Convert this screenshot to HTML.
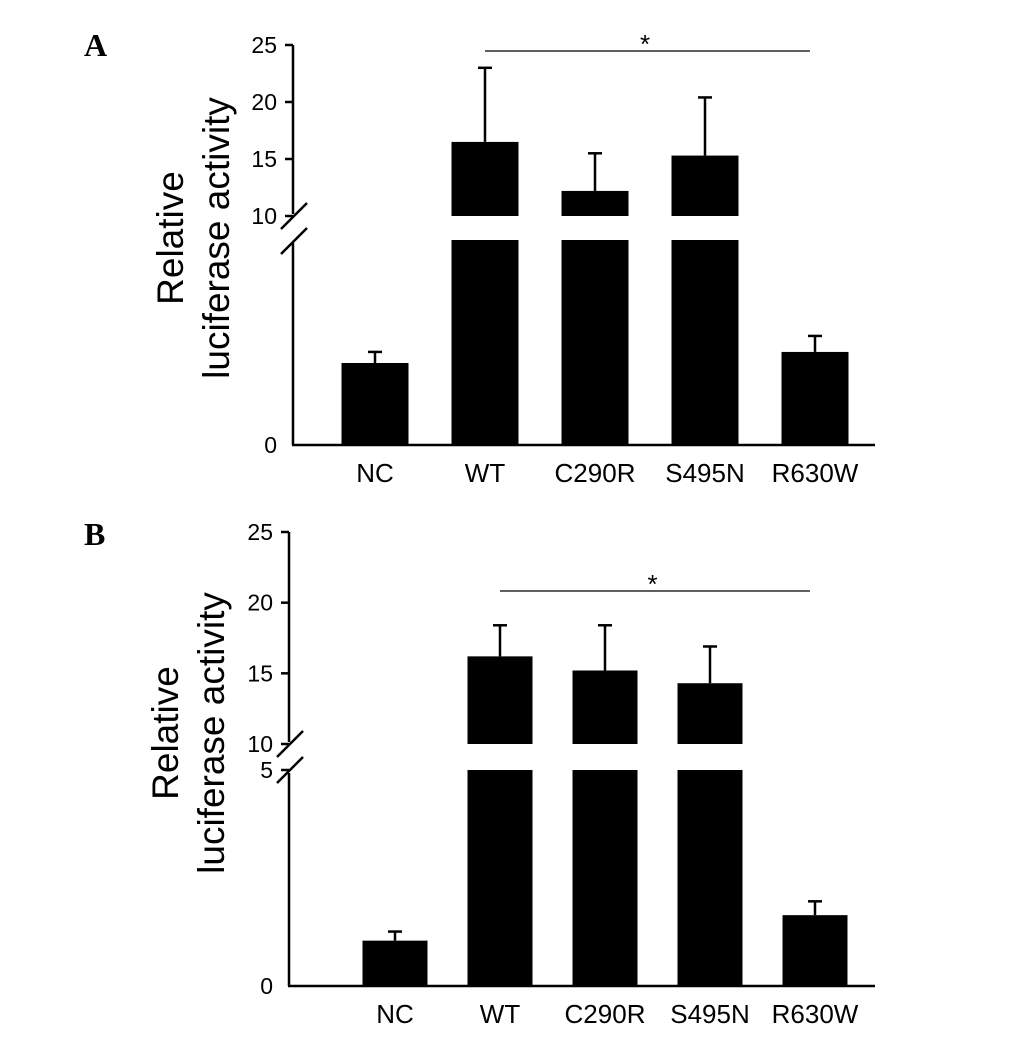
<!DOCTYPE html>
<html><head><meta charset="utf-8"><style>
body{margin:0;background:#fff;}
svg text{font-family:"Liberation Sans",Arial,sans-serif;}
svg text.serif{font-family:"Liberation Serif",serif;}
</style></head><body>
<svg id="chart" width="1033" height="1044" viewBox="0 0 1033 1044" xmlns="http://www.w3.org/2000/svg"></svg>
<script>
const categories=["NC","WT","C290R","S495N","R630W"];
const valuesA=[2.0,16.5,12.2,15.3,2.27];
const errorsA=[2.27,23.0,15.5,20.4,2.66];
const valuesB=[1.05,16.2,15.2,14.3,1.64];
const errorsB=[1.26,18.4,18.4,16.9,1.96];
const upperTicksA=[10,15,20,25];
const upperTicksB=[10,15,20,25];
const lowerTicksB=[0,5];
const lowerTicksA=[0];

const NS="http://www.w3.org/2000/svg";
const svg=document.getElementById('chart');
function el(tag,attrs,parent){const e=document.createElementNS(NS,tag);for(const k in attrs)e.setAttribute(k,attrs[k]);(parent||svg).appendChild(e);return e;}

function panel(cfg){
  const g=el('g',{});
  
  
  const yUp=v=>cfg.upTop+(25-v)*(cfg.upBot-cfg.upTop)/15;
  const yLo=v=>cfg.loBot-v*(cfg.loBot-cfg.loTop)/5;
  const y=v=>v>=10?yUp(v):yLo(v);
  const xc=i=>cfg.x0+i*cfg.step;
  const ax=cfg.axisX;
  const L=el('text',{x:cfg.letterX,y:cfg.letterY,'font-size':32,'font-weight':'bold','class':'serif'},g);
  L.textContent=cfg.label;
  
  
  const a1=el('line',{x1:ax,x2:ax,y1:cfg.upTop,y2:cfg.upBot-2,stroke:'#000','stroke-width':2.5},g);
  
  
  const a2=el('line',{x1:ax,x2:ax,y1:cfg.loTop+3,y2:cfg.loBot,stroke:'#000','stroke-width':2.5},g);
  
  
  [cfg.s1,cfg.s2].forEach(s=>{
    const b=el('line',{x1:ax-12,y1:s+13,x2:ax+14,y2:s-13,stroke:'#000','stroke-width':2.5},g);
    
    
  });
  const xa=el('line',{x1:ax-1,x2:cfg.axisEnd,y1:cfg.loBot,y2:cfg.loBot,stroke:'#000','stroke-width':2.5},g);
  
  
  cfg.upTicks.forEach(t=>{
    const tk=el('line',{x1:ax-8,x2:ax,y1:yUp(t),y2:yUp(t),stroke:'#000','stroke-width':2.5},g);
    
    
    const tx=el('text',{x:ax-16,y:yUp(t)+8,'font-size':23,'text-anchor':'end'},g);
    tx.textContent=t;
    
    
  });
  cfg.loTicks.forEach(t=>{
    if(t>0){const tk=el('line',{x1:ax-8,x2:ax,y1:yLo(t),y2:yLo(t),stroke:'#000','stroke-width':2.5},g);
    
    }
    const tx=el('text',{x:ax-16,y:yLo(t)+8,'font-size':23,'text-anchor':'end'},g);
    tx.textContent=t;
    
    
  });
  const yt=el('text',{transform:`translate(${cfg.titleX},${cfg.titleY}) rotate(-90)`,'font-size':37,'text-anchor':'middle'},g);
  
  
  const t1=el('tspan',{x:0,dy:-22},yt);t1.textContent='Relative';
  const t2=el('tspan',{x:0,dy:46},yt);t2.textContent='luciferase activity';
  categories.forEach((c,i)=>{
    const v=cfg.values[i],e=cfg.errors[i],cx=xc(i),w=cfg.barW;
    if(v>=10){
      const r1=el('rect',{x:cx-w/2,y:yUp(v),width:w,height:cfg.upBot-yUp(v),fill:'#000'},g);
      
      
      const r2=el('rect',{x:cx-w/2,y:cfg.loTop,width:w,height:cfg.loBot-cfg.loTop,fill:'#000'},g);
      
      
    }else{
      const r=el('rect',{x:cx-w/2,y:yLo(v),width:w,height:cfg.loBot-yLo(v),fill:'#000'},g);
      
      
    }
    const ev=el('line',{x1:cx,x2:cx,y1:y(v),y2:y(e),stroke:'#000','stroke-width':2.5},g);
    
    
    const eh=el('line',{x1:cx-7,x2:cx+7,y1:y(e),y2:y(e),stroke:'#000','stroke-width':2.5},g);
    
    
    const lb=el('text',{x:cx,y:cfg.loBot+37,'font-size':26,'text-anchor':'middle'},g);
    lb.textContent=c;
    
    
  });
  const sl=el('line',{x1:xc(1),x2:xc(4)-5,y1:cfg.sigY,y2:cfg.sigY,stroke:'#000','stroke-width':1.3},g);
  
  
  const st=el('text',{x:(xc(1)+xc(4))/2-5,y:cfg.sigY+2,'font-size':26,'text-anchor':'middle'},g);
  st.textContent='*';
  
  
}

panel({label:'A',letterX:84,letterY:56,axisX:293,axisEnd:875,upTop:45,upBot:216,loTop:240,loBot:445,
  s1:216,s2:241,x0:375,step:110,barW:67,values:valuesA,errors:errorsA,upTicks:upperTicksA,loTicks:lowerTicksA,
  titleX:205,titleY:238,sigY:51});
panel({label:'B',letterX:84,letterY:545,axisX:289,axisEnd:875,upTop:532,upBot:744,loTop:770,loBot:986,
  s1:744,s2:770,x0:395,step:105,barW:65,values:valuesB,errors:errorsB,upTicks:upperTicksB,loTicks:lowerTicksB,
  titleX:200,titleY:733,sigY:591});
</script>
</body></html>
